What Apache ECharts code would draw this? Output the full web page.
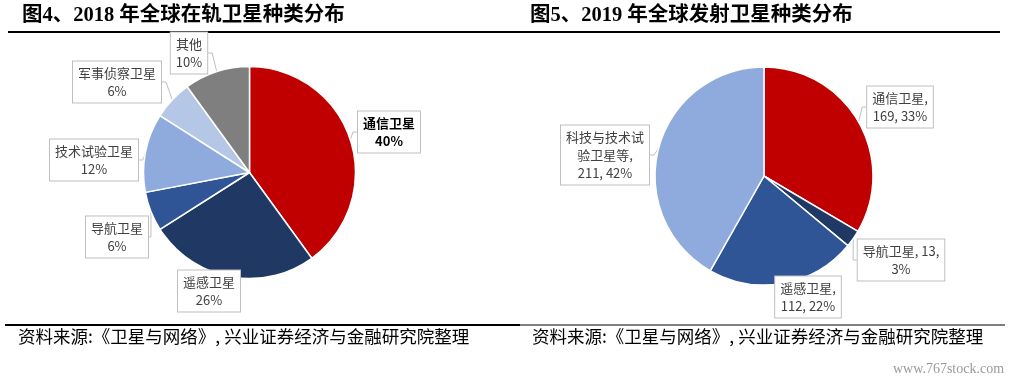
<!DOCTYPE html>
<html><head><meta charset="utf-8">
<script src="https://cdn.jsdelivr.net/npm/echarts@6/dist/echarts.min.js"></script>
<style>html,body{margin:0;padding:0;background:#fff}#c{width:1011px;height:382px}</style>
</head><body><div id="c"></div>
<script>
const cats2018 = ['通信卫星','遥感卫星','导航卫星','技术试验卫星','军事侦察卫星','其他'];
const vals2018 = [40,26,6,12,6,10];
const cats2019 = ['通信卫星','导航卫星','遥感卫星','科技与技术试验卫星等'];
const vals2019 = [169,13,112,211];
const title1 = '图4、2018 年全球在轨卫星种类分布';
const title2 = '图5、2019 年全球发射卫星种类分布';
const sourceText = '资料来源:《卫星与网络》, 兴业证券经济与金融研究院整理';

const colors2018 = ['#C00000','#203864','#2F5597','#8FAADC','#B4C7E7','#7F7F7F'];
const colors2019 = ['#C00000','#203864','#2F5597','#8FAADC'];
const labelPos2018 = [[389,132],[209,291],[117,237],[94,160],[117,82],[189,53]];
const labelPos2019 = [[900,107],[901,260],[808,297],[605,155]];

const font = '"Noto Sans CJK SC", sans-serif';
const boxLabel = {
  show: true, color: '#404040', fontSize: 13, lineHeight: 18, fontFamily: font,
  backgroundColor: '#fff', borderColor: '#BFBFBF', borderWidth: 1, padding: [3,5,2,5], align: 'center'
};

const chart = echarts.init(document.getElementById('c'), null, {renderer: 'canvas'});
chart.setOption({
  animation: false,
  graphic: [
    {type:'text', left: 22, top: 5, style:{text: title1, font: 'bold 20.5px "Liberation Serif", "Noto Sans CJK SC"', fill:'#000'}},
    {type:'text', left: 530, top: 5, style:{text: title2, font: 'bold 20.5px "Liberation Serif", "Noto Sans CJK SC"', fill:'#000'}},
    {type:'line', shape:{x1:8,y1:32,x2:1000,y2:32}, style:{stroke:'#000', lineWidth:2}},
    {type:'line', shape:{x1:5,y1:325,x2:520,y2:325}, style:{stroke:'#000', lineWidth:2}},
    {type:'line', shape:{x1:520,y1:325,x2:1005,y2:325}, style:{stroke:'#000', lineWidth:1}},
    {type:'text', left: 18, top: 328, style:{text: sourceText, font: '17.5px "Noto Sans CJK SC"', fill:'#000'}},
    {type:'text', left: 532, top: 328, style:{text: sourceText, font: '17.5px "Noto Sans CJK SC"', fill:'#000'}},
    {type:'text', left: 893, top: 362, style:{text: 'www.767stock.com', font: '14px "Liberation Sans Narrow", "Liberation Serif"', fill:'#9a9a9a'}}
  ],
  series: [
    {
      type: 'pie', center: [249.5, 172.5], radius: 106, startAngle: 90, clockwise: true,
      data: cats2018.map((n,i)=>({name:n, value: vals2018[i], itemStyle:{color: colors2018[i]},
        label: i===0 ? {fontWeight:'bold', color:'#000'} : {}})),
      itemStyle: {borderColor:'#fff', borderWidth:1.5},
      label: Object.assign({}, boxLabel, {formatter: p => p.name + '\n' + p.value + '%'}),
      labelLine: {show: true, length: 6, length2: 4, lineStyle:{color:'#BFBFBF', width:1}},
      labelLayout: p => ({x: labelPos2018[p.dataIndex][0], y: labelPos2018[p.dataIndex][1], align:'center', verticalAlign:'middle'})
    },
    {
      type: 'pie', center: [764, 176], radius: 109, startAngle: 90, clockwise: true, percentPrecision: 0,
      data: cats2019.map((n,i)=>({name:n, value: vals2019[i], itemStyle:{color: colors2019[i]}})),
      itemStyle: {borderColor:'#fff', borderWidth:1.5},
      label: Object.assign({}, boxLabel, {formatter: p => {
        const i = p.dataIndex;
        if (i === 1) return p.name + ', ' + p.value + ',\n' + p.percent + '%';
        if (i === 3) return p.name.slice(0,6) + '\n' + p.name.slice(6) + ',\n' + p.value + ', ' + p.percent + '%';
        return p.name + ',\n' + p.value + ', ' + p.percent + '%';
      }}),
      labelLine: {show: true, length: 6, length2: 4, lineStyle:{color:'#BFBFBF', width:1}},
      labelLayout: p => ({x: labelPos2019[p.dataIndex][0], y: labelPos2019[p.dataIndex][1], align:'center', verticalAlign:'middle'})
    }
  ]
});
</script></body></html>
